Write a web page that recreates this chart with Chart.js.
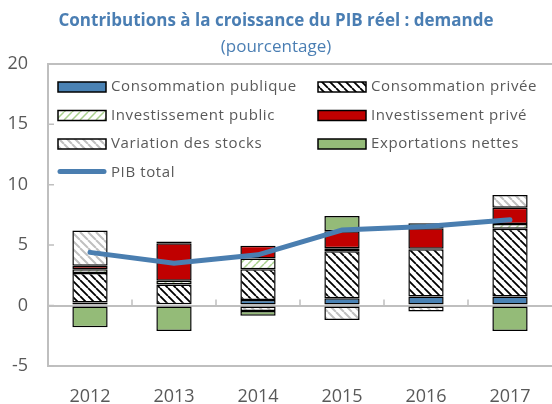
<!DOCTYPE html>
<html>
<head>
<meta charset="utf-8">
<script src="https://cdn.jsdelivr.net/npm/chart.js@4"></script>
<style>
  html, body { margin: 0; padding: 0; background: #fff; }
  canvas { display: block; }
</style>
</head>
<body>
<canvas id="chart" width="552" height="404"></canvas>
<script>
'use strict';

// données (points de pourcentage)
const years    = ['2012', '2013', '2014', '2015', '2016', '2017'];
const consPub  = [0.25, 0.1, 0.45, 0.6, 0.75, 0.75];
const consPriv = [2.45, 1.65, 2.55, 3.9, 3.9, 5.6];
const invPub   = [0.3, 0.3, 0.9, 0.25, 0.05, 0.4];
const invPriv  = [0.3, 3.1, 1.05, 1.4, 1.7, 1.35];
const stocks   = [2.9, 0.15, -0.45, -1.2, -0.5, 1.05];
const netExp   = [-1.8, -2.1, -0.4, 1.25, 0.4, -2.1];
const pibTotal = [4.4, 3.5, 4.2, 6.25, 6.55, 7.1];
const yTicks   = [-5, 0, 5, 10, 15, 20];

const GREY = '#595959';
const AXIS = '#bfbfbf';
const FONT = '"Open Sans", sans-serif';

function hatch(color, dir, size, lw) {
  const c = document.createElement('canvas');
  c.width = c.height = size;
  const x = c.getContext('2d');
  x.fillStyle = '#fff';
  x.fillRect(0, 0, size, size);
  x.strokeStyle = color;
  x.lineWidth = lw;
  x.beginPath();
  for (const k of [-size, 0, size]) {
    if (dir === '\\') { x.moveTo(k, 0); x.lineTo(k + size, size); }
    else { x.moveTo(k, size); x.lineTo(k + size, 0); }
  }
  x.stroke();
  return x.createPattern(c, 'repeat');
}

const bar = (label, data, bg) => ({
  type: 'bar', label, data, backgroundColor: bg,
  borderColor: '#000', borderWidth: 1.5, borderSkipped: false,
  barPercentage: 0.42, categoryPercentage: 1, stack: 'c', order: 1
});

// légende sur deux colonnes, dans la zone du graphique
const legend2col = {
  id: 'legend2col',
  afterDraw(chart) {
    const ctx = chart.ctx;
    const ds = chart.data.datasets;
    const items = [ds[1], ds[2], ds[3], ds[4], ds[5], ds[6], ds[0]];
    ctx.save();
    ctx.font = '15px ' + FONT;
    ctx.letterSpacing = '0.6px';
    ctx.textBaseline = 'middle';
    items.forEach((d, i) => {
      const col = i % 2, row = Math.floor(i / 2);
      const x = col ? 318 : 58;
      const y = 87 + row * 28.5;
      if (d.type === 'line') {
        ctx.strokeStyle = d.borderColor;
        ctx.lineWidth = 5;
        ctx.lineCap = 'round';
        ctx.beginPath();
        ctx.moveTo(x + 2, y - 1); ctx.lineTo(x + 46, y - 1);
        ctx.stroke();
      } else {
        ctx.fillStyle = d.backgroundColor;
        ctx.fillRect(x, y - 5, 48, 10);
        ctx.strokeStyle = '#000';
        ctx.lineWidth = 1.5;
        ctx.strokeRect(x, y - 5, 48, 10);
      }
      ctx.fillStyle = GREY;
      ctx.fillText(d.label, x + 53, y);
    });
    ctx.restore();
  }
};

// petites graduations intérieures
const innerTicks = {
  id: 'innerTicks',
  beforeDatasetsDraw(chart) {
    const { ctx, scales: { x, y } } = chart;
    ctx.save();
    ctx.strokeStyle = AXIS;
    ctx.lineWidth = 1.5;
    ctx.beginPath();
    yTicks.forEach(v => {
      const py = y.getPixelForValue(v);
      ctx.moveTo(x.left, py); ctx.lineTo(x.left + 6, py);
    });
    const y0 = y.getPixelForValue(0);
    for (let i = 1; i < years.length; i++) {
      const px = (x.getPixelForValue(i - 1) + x.getPixelForValue(i)) / 2;
      ctx.moveTo(px, y0); ctx.lineTo(px, y0 - 6);
    }
    ctx.stroke();
    ctx.restore();
  }
};

new Chart(document.getElementById('chart'), {
  data: {
    labels: years,
    datasets: [
      { type: 'line', label: 'PIB total', data: pibTotal, borderColor: '#4a7eb0',
        borderWidth: 5, pointRadius: 0, tension: 0, stack: 'pib', order: 0, borderCapStyle: 'round' },
      bar('Consommation publique', consPub, '#4a82b4'),
      bar('Consommation privée', consPriv, hatch('#000', '\\', 8, 1.8)),
      bar('Investissement public', invPub, hatch('#a9d18e', '/', 8, 1.5)),
      bar('Investissement privé', invPriv, '#c00000'),
      bar('Variation des stocks', stocks, hatch('#c0c0c0', '\\', 8, 2)),
      bar('Exportations nettes', netExp, '#94bb78')
    ]
  },
  options: {
    responsive: false,
    animation: false,
    devicePixelRatio: 1,
    layout: { padding: 0 },
    plugins: {
      legend: { display: false },
      tooltip: { enabled: false },
      title: {
        display: true, text: 'Contributions à la croissance du PIB réel : demande',
        color: '#4a7eb3', font: { family: FONT, size: 17, weight: 'bold' },
        padding: { top: 11, bottom: 6 }
      },
      subtitle: {
        display: true, text: '(pourcentage)',
        color: '#4a7eb3', font: { family: FONT, size: 17 },
        padding: { top: 0, bottom: 6 }
      }
    },
    scales: {
      x: {
        stacked: true,
        afterFit: s => { s.height = 38; },
        grid: { display: false },
        border: { display: false },
        ticks: { color: GREY, font: { family: FONT, size: 18 }, padding: 12 }
      },
      y: {
        stacked: true,
        min: -5, max: 20,
        afterFit: s => { s.width = 48; },
        ticks: { stepSize: 5, color: GREY, font: { family: FONT, size: 18 }, padding: 20 },
        grid: {
          drawTicks: false, lineWidth: 2,
          color: c => [20, 0, -5].includes(c.tick && c.tick.value) ? AXIS : 'rgba(0,0,0,0)'
        },
        border: { color: AXIS, width: 2 }
      }
    }
  },
  plugins: [innerTicks, legend2col]
});
</script>
</body>
</html>
